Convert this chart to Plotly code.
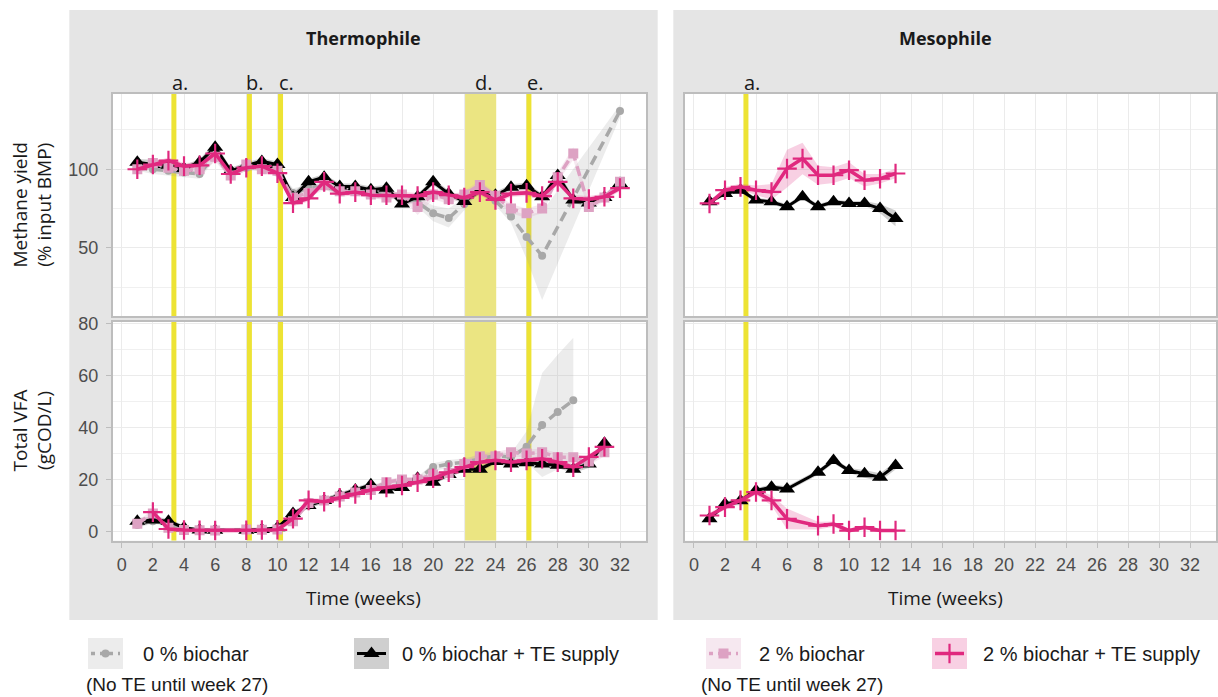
import plotly.graph_objects as go

W, H = 1218, 697

# ---------------- DATA ----------------
# Thermophile - methane yield (% input BMP)
wk_ch4_T = list(range(1, 33))
ch4_T_0_weeks = list(range(1, 28)) + [32]
ch4_T_0 = [101, 100, 99, 98, 97, 109, 96, 101, 101, 98, 85, 88, 89, 86, 86, 85, 84, 83, 79, 72, 69, 78, 89, 80, 70, 57, 45, 137]
ch4_T_0_sd = [2, 3, 3, 3, 3, 3, 2, 2, 2, 2, 3, 2, 2, 2, 2, 2, 2, 2, 3, 5, 6, 4, 3, 3, 4, 14, 28, 4]
ch4_T_TE = [104.5, 103, 102.5, 100.5, 104.5, 114, 99, 102.5, 105, 103, 82, 92, 95, 89, 89, 87, 88, 78, 82.5, 92, 84.5, 79.5, 86.5, 83.5, 88.5, 89.5, 82.5, 96, 80.5, 78.5, 82, 91]
ch4_T_TE_sd = [2, 3, 3, 2, 2, 3, 2, 2, 2, 2, 3, 2, 2, 2, 2, 2, 2, 2, 2, 2, 2, 2, 2, 2, 2, 2, 2, 3, 2, 2, 2, 2]
ch4_T_2 = [100, 104, 101, 99, 100, 108, 96, 103, 100, 99, 82, 85, 90, 86, 86, 84, 82, 84, 76, 84, 81, 84, 90, 83, 75, 72, 75, 95, 110, 76, 82, 92]
ch4_T_2_sd = [2, 3, 3, 3, 3, 3, 2, 2, 2, 2, 3, 3, 3, 2, 2, 2, 2, 2, 5, 3, 3, 2, 3, 2, 3, 3, 3, 3, 4, 3, 2, 2]
ch4_T_2TE = [100, 103, 105.5, 102, 102.5, 110, 97, 101, 102, 97.5, 78.5, 81.5, 92, 84.5, 85.5, 83.5, 83.5, 83.5, 83, 85.5, 83.5, 82, 85.5, 80.5, 84.5, 85, 83, 92, 81.5, 81, 82.5, 88]
ch4_T_2TE_sd = [2] * 32

# Thermophile - total VFA (gCOD/L)
vfa_T_0_weeks = [1, 2, 3, 4, 5, 6, 8, 9, 10, 11, 12, 13, 14, 15, 16, 17, 18, 19, 20, 21, 22, 23, 24, 25, 26, 27, 28, 29]
vfa_T_0 = [2.5, 4, 3, 1, 0.5, 0.5, 0.5, 0.5, 0.5, 6, 10, 12, 14, 16, 17, 18.3, 19, 20, 24.8, 26, 26.7, 28, 29.2, 28.6, 32.6, 41, 46, 50.5]
vfa_T_0_sd = [1, 1, 1, 0.8, 0.5, 0.5, 0.5, 0.5, 0.5, 1, 1, 1, 1, 1, 1, 1, 1, 1, 1.5, 1.5, 1.5, 1.5, 1.5, 1.5, 6, 20, 22, 24]
vfa_T_TE_weeks = [1, 2, 3, 4, 5, 6, 8, 9, 10, 11, 12, 13, 14, 15, 16, 17, 18, 19, 20, 21, 22, 23, 24, 25, 26, 27, 28, 29, 30, 31]
vfa_T_TE = [4, 4.5, 4, 1.5, 0.6, 0.5, 0.5, 0.8, 1.5, 7, 10, 12, 14, 16, 18, 16, 17, 20.5, 19, 22, 24, 24, 27, 26, 26.5, 26, 25.5, 24, 26, 34]
vfa_T_TE_sd = [1.2, 1.2, 1, 0.8, 0.5, 0.5, 0.5, 0.5, 0.5, 1, 1, 1, 1, 1, 1, 1, 1, 1, 1, 1, 1, 1, 1, 1, 1, 1, 1, 1.5, 1.5, 1.5]
vfa_T_2_weeks = [1, 2, 3, 4, 5, 6, 8, 9, 10, 11, 12, 13, 14, 15, 16, 17, 18, 19, 20, 21, 22, 23, 24, 25, 26, 27, 28, 29, 30, 31]
vfa_T_2 = [3, 7, 1.5, 0.6, 0.5, 0.4, 0.8, 0.7, 0.8, 4, 11, 12, 13.5, 15, 16, 19, 20, 20, 22, 22.5, 26, 29, 29, 30.5, 30, 30.5, 28.6, 28.6, 27, 30.5]
vfa_T_2_sd = [1, 1.5, 1, 0.5, 0.5, 0.5, 0.5, 0.5, 0.5, 1, 1, 1, 1, 1, 1, 1, 1, 1, 1, 1, 1, 1.5, 1.5, 1.5, 1.5, 1.5, 1.5, 1.5, 1.5, 1.5]
vfa_T_2TE_weeks = [2, 3, 4, 5, 6, 8, 9, 10, 11, 12, 13, 14, 15, 16, 17, 18, 19, 20, 21, 22, 23, 24, 25, 26, 27, 28, 29, 30, 31]
vfa_T_2TE = [7.5, 1, 0.6, 0.5, 0.4, 0.5, 0.6, 0.7, 5, 12, 11.5, 13, 14.5, 16, 17, 17.7, 19, 20.5, 22.8, 24.8, 26.7, 27.4, 26.7, 27.4, 28, 26.7, 24.8, 28.7, 32.6]
vfa_T_2TE_sd = [1] * 29

# Mesophile - methane yield
wk_ch4_M = list(range(1, 14))
ch4_M_TE = [79.3, 84.6, 86.7, 80.4, 79.3, 76.2, 82.5, 76.2, 79.3, 78.3, 78.3, 75, 68.8]
ch4_M_TE_sd = [1.5, 1.5, 1.5, 1.5, 1.5, 1.5, 1.5, 1.5, 1.5, 1.5, 1.5, 3, 5]
ch4_M_2TE = [78.3, 86.7, 88.8, 86.7, 85.6, 100.4, 106.8, 96.2, 96.2, 99.4, 93, 94, 97.3]
ch4_M_2TE_sd = [1.5, 2, 2, 3, 5, 12, 10, 6, 5, 5, 4, 3, 3]

# Mesophile - total VFA
wk_vfa_M = [1, 2, 3, 4, 5, 6, 8, 9, 10, 11, 12, 13]
vfa_M_TE = [4.9, 10.6, 11.9, 15.8, 17.1, 16.4, 22.8, 27.3, 23.5, 22.2, 20.9, 25.4]
vfa_M_TE_sd = [1, 1, 1, 1, 1, 1, 1, 1, 1, 1.5, 1.5, 1.5]
vfa_M_2TE = [6.2, 9.4, 12, 15.2, 12, 4.9, 2.3, 2.9, 0.4, 1.7, 0.4, 0.4]
vfa_M_2TE_sd = [1, 1, 1, 1, 2, 4, 1.5, 1, 0.8, 0.8, 0.5, 0.5]

# Events (weeks)
events_T = [3.35, 8.2, 10.2, 26.15]
events_T_labels = ["a.", "b.", "c.", "e."]
region_T = [22.05, 24.05]
region_T_label = "d."
events_M = [3.35]
events_M_labels = ["a."]

x_ticks = list(range(0, 33, 2))
legend_labels = ["0 % biochar", "0 % biochar + TE supply", "2 % biochar", "2 % biochar + TE supply"]
legend_note = "(No TE until week 27)"

# ---------------- STYLE ----------------
C_GRAY, C_BLACK, C_PINK, C_MAG = "#A8A8A8", "#000000", "#DDA2C3", "#E0287E"
F_GRAY = "rgba(160,160,160,0.2)"
F_BLACK = "rgba(0,0,0,0.19)"
F_PINK = "rgba(221,162,195,0.25)"
F_MAG = "rgba(224,40,126,0.22)"
YEL = "#EDE334"
YEL_REG = "#EBE582"
DASH = "10px,6px"

STY = {
    "g": dict(color=C_GRAY, fill=F_GRAY, dash=DASH, symbol="circle", size=8, width=3.5),
    "k": dict(color=C_BLACK, fill=F_BLACK, dash="solid", symbol="triangle-up", size=14, width=3),
    "p": dict(color=C_PINK, fill=F_PINK, dash=DASH, symbol="square", size=10, width=3.5),
    "m": dict(color=C_MAG, fill=F_MAG, dash="solid", symbol="cross-thin", size=14, width=3.5),
}

fig = go.Figure()


def ribbon(xa, ya, x, y, sd, key):
    up = [a + b for a, b in zip(y, sd)]
    lo = [a - b for a, b in zip(y, sd)]
    fig.add_trace(go.Scatter(x=x + x[::-1], y=up + lo[::-1], fill="toself", mode="lines",
                             line=dict(width=0), fillcolor=STY[key]["fill"],
                             xaxis=xa, yaxis=ya, showlegend=False, hoverinfo="skip"))


def line(xa, ya, x, y, key):
    s = STY[key]
    mk = dict(symbol=s["symbol"], size=s["size"], color=s["color"])
    if s["symbol"] == "cross-thin":
        mk["line"] = dict(width=2.2, color=s["color"])
    fig.add_trace(go.Scatter(x=x, y=y, mode="lines+markers",
                             line=dict(color=s["color"], width=s["width"], dash=s["dash"]),
                             marker=mk, xaxis=xa, yaxis=ya, showlegend=False))


panels = [
    ("x", "y", [(wk_ch4_T if k != "g" else ch4_T_0_weeks, v, sd, k) for v, sd, k in
                [(ch4_T_0, ch4_T_0_sd, "g"), (ch4_T_TE, ch4_T_TE_sd, "k"),
                 (ch4_T_2, ch4_T_2_sd, "p"), (ch4_T_2TE, ch4_T_2TE_sd, "m")]]),
    ("x3", "y3", [(vfa_T_0_weeks, vfa_T_0, vfa_T_0_sd, "g"), (vfa_T_TE_weeks, vfa_T_TE, vfa_T_TE_sd, "k"),
                  (vfa_T_2_weeks, vfa_T_2, vfa_T_2_sd, "p"), (vfa_T_2TE_weeks, vfa_T_2TE, vfa_T_2TE_sd, "m")]),
    ("x2", "y2", [(wk_ch4_M, ch4_M_TE, ch4_M_TE_sd, "k"), (wk_ch4_M, ch4_M_2TE, ch4_M_2TE_sd, "m")]),
    ("x4", "y4", [(wk_vfa_M, vfa_M_TE, vfa_M_TE_sd, "k"), (wk_vfa_M, vfa_M_2TE, vfa_M_2TE_sd, "m")]),
]
for xa, ya, series in panels:
    for x, y, sd, k in series:
        ribbon(xa, ya, x, y, sd, k)
    for x, y, sd, k in series:
        line(xa, ya, x, y, k)

# ---------------- LAYOUT ----------------
def px_x(p):
    return p / W


def px_y(p):
    return 1 - p / H


XL = [px_x(112.7), px_x(646)]
XR = [px_x(685), px_x(1216)]
YT = [px_y(316), px_y(94)]
YB = [px_y(540.7), px_y(322)]
XR_RANGE = [-0.58, 33.67]
TOP_R = [6.8, 147.8]
BOT_R = [-3.5, 80.6]

TICKFONT = dict(family="Liberation Sans", size=18, color="#4D4D4D")
base = dict(showgrid=True, gridcolor="#EBEBEB", gridwidth=1.1, zeroline=False, showline=True,
            linecolor="#BDBDBD", linewidth=1.6, mirror=True, tickcolor="#BDBDBD", ticklen=5,
            tickwidth=1.1, tickfont=TICKFONT, automargin=False)


def xax(domain, anchor, labels):
    d = dict(base, domain=domain, anchor=anchor, range=XR_RANGE, tickmode="array", tickvals=x_ticks,
             showticklabels=labels, ticks="outside" if labels else "")
    if labels:
        d["ticklabelstandoff"] = 2
    return d


def yax(domain, anchor, rng, tv, mv, labels):
    d = dict(base, domain=domain, anchor=anchor, range=rng, tickmode="array", tickvals=tv,
             showticklabels=labels, ticks="outside" if labels else "",
             minor=dict(tickmode="array", tickvals=mv, showgrid=True, gridcolor="#F0F0F0", gridwidth=1, ticks=""))
    if labels:
        d["ticklabelstandoff"] = 4
    return d


fig.update_layout(
    width=W, height=H, autosize=False, margin=dict(l=0, r=0, t=0, b=0, pad=0, autoexpand=False),
    paper_bgcolor="#FFFFFF", plot_bgcolor="rgba(0,0,0,0)", showlegend=False,
    font=dict(family="Liberation Sans", color="#1A1A1A"),
    xaxis=xax(XL, "y", False), yaxis=yax(YT, "x", TOP_R, [50, 100], [25, 75, 125], True),
    xaxis2=xax(XR, "y2", False), yaxis2=yax(YT, "x2", TOP_R, [50, 100], [25, 75, 125], False),
    xaxis3=xax(XL, "y3", True), yaxis3=yax(YB, "x3", BOT_R, [0, 20, 40, 60, 80], [10, 30, 50, 70], True),
    xaxis4=xax(XR, "y4", True), yaxis4=yax(YB, "x4", BOT_R, [0, 20, 40, 60, 80], [10, 30, 50, 70], False),
    xaxis5=dict(domain=[0, 1], anchor="y5", range=[0, W], visible=False, fixedrange=True),
    yaxis5=dict(domain=[0, px_y(624)], anchor="x5", range=[H, 624], visible=False, fixedrange=True),
)

shapes = []
annotations = []
# gray panel backgrounds
for x0, x1 in [(69.3, 657.7), (673.3, 1218)]:
    shapes.append(dict(type="rect", xref="paper", yref="paper", x0=px_x(x0), x1=px_x(x1),
                       y0=px_y(620), y1=px_y(10), fillcolor="#E5E5E5", line=dict(width=0), layer="below"))
# white plot areas on top of the gray panels
for xd in [XL, XR]:
    for yd in [YT, YB]:
        shapes.append(dict(type="rect", xref="paper", yref="paper", x0=xd[0], x1=xd[1], y0=yd[0], y1=yd[1],
                           fillcolor="#FFFFFF", line=dict(width=0), layer="below"))

# event lines / region (drawn between grid and data)
for pairs, evs in [([("x", "y", TOP_R), ("x3", "y3", BOT_R)], events_T),
                   ([("x2", "y2", TOP_R), ("x4", "y4", BOT_R)], events_M)]:
    for xr, yr, rng in pairs:
        for e in evs:
            shapes.append(dict(type="line", xref=xr, yref=yr, x0=e, x1=e, y0=rng[0], y1=rng[1],
                               line=dict(color=YEL, width=5), layer="between"))
for xr, yr, rng in [("x", "y", TOP_R), ("x3", "y3", BOT_R)]:
    shapes.append(dict(type="rect", xref=xr, yref=yr, x0=region_T[0], x1=region_T[1], y0=rng[0], y1=rng[1],
                       fillcolor=YEL_REG, line=dict(width=0), layer="between"))

LBL_FONT = dict(family="Open Sans", size=20, color="#1A1A1A")
for e, lab in zip(events_T, events_T_labels):
    annotations.append(dict(x=e, y=px_y(82), xref="x", yref="paper", text=lab, showarrow=False,
                            xanchor="center", yanchor="middle", xshift=6, font=LBL_FONT))
annotations.append(dict(x=sum(region_T) / 2, y=px_y(82), xref="x", yref="paper", text=region_T_label,
                        showarrow=False, xanchor="center", yanchor="middle", xshift=3, font=LBL_FONT))
for e, lab in zip(events_M, events_M_labels):
    annotations.append(dict(x=e, y=px_y(82), xref="x2", yref="paper", text=lab, showarrow=False,
                            xanchor="center", yanchor="middle", xshift=6, font=LBL_FONT))

# strip titles and axis titles
STRIP_FONT = dict(family="Open Sans", size=18, color="#1A1A1A")
TITLE_FONT = dict(family="Open Sans", size=19, color="#1A1A1A")
for cx, t in [(363.5, "Thermophile"), (945.6, "Mesophile")]:
    annotations.append(dict(x=px_x(cx), y=px_y(38), xref="paper", yref="paper", text="<b>" + t + "</b>",
                            showarrow=False, xanchor="center", yanchor="middle", font=STRIP_FONT))
    annotations.append(dict(x=px_x(cx), y=px_y(598), xref="paper", yref="paper", text="Time (weeks)",
                            showarrow=False, xanchor="center", yanchor="middle", font=TITLE_FONT))
for cy, t in [(205, "Methane yield<br>(% input BMP)"), (431, "Total VFA<br>(gCOD/L)")]:
    annotations.append(dict(x=px_x(31.5), y=px_y(cy), xref="paper", yref="paper", text=t, textangle=-90,
                            showarrow=False, xanchor="center", yanchor="middle", font=TITLE_FONT))

# legend (custom, in pixel space on hidden axis x5/y5)
LEG_FONT = dict(family="Liberation Sans", size=20, color="#1A1A1A")
NOTE_FONT = dict(family="Liberation Sans", size=19, color="#1A1A1A")
leg_items = [("g", 88, 141), ("k", 354, 400), ("p", 706, 757), ("m", 932, 981)]
for (k, bx, tx), lab in zip(leg_items, legend_labels):
    s = STY[k]
    shapes.append(dict(type="rect", xref="x5", yref="y5", x0=bx, x1=bx + 35, y0=638, y1=669,
                       fillcolor=s["fill"], line=dict(width=0), layer="below"))
    cx, cy = bx + 17.5, 653.5
    fig.add_trace(go.Scatter(x=[bx + 3, bx + 32], y=[cy, cy], mode="lines", xaxis="x5", yaxis="y5",
                             line=dict(color=s["color"], width=s["width"], dash="4px,5px" if s["dash"] != "solid" else "solid"),
                             showlegend=False, hoverinfo="skip"))
    mk = dict(symbol=s["symbol"], size=s["size"], color=s["color"])
    if s["symbol"] == "cross-thin":
        mk["line"] = dict(width=2.2, color=s["color"])
    fig.add_trace(go.Scatter(x=[cx], y=[cy], mode="markers", xaxis="x5", yaxis="y5", marker=mk,
                             showlegend=False, hoverinfo="skip"))
    annotations.append(dict(x=px_x(tx), y=px_y(653.5), xref="paper", yref="paper", text=lab, showarrow=False,
                            xanchor="left", yanchor="middle", font=LEG_FONT))
for nx in [84, 699]:
    annotations.append(dict(x=px_x(nx), y=px_y(684), xref="paper", yref="paper", text=legend_note,
                            showarrow=False, xanchor="left", yanchor="middle", font=NOTE_FONT))

fig.update_layout(shapes=shapes, annotations=annotations)
fig.write_html("out.html", config={"displayModeBar": False, "responsive": False},
               post_script="document.documentElement.style.margin='0px';document.body.style.margin='0px';"
                           "document.body.style.padding='0px';document.body.style.overflow='hidden';")
